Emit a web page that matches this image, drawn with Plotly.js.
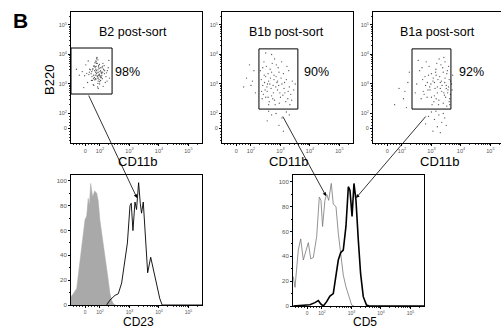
<!DOCTYPE html>
<html><head><meta charset="utf-8">
<script src="https://cdn.plot.ly/plotly-3.0.1.min.js"></script>
<style>html,body{margin:0;padding:0;overflow:hidden;background:#fff}#chart{width:510px;height:328px}</style>
</head><body><div id="chart"></div>
<script>
const W = 510, H = 328;

// ---- Data (display units: 10^2 = 2, 10^3 = 3 ..., "0" = 1.5) ----
const tickVals = [1.5, 2, 3, 4, 5];
const tickText = ['0', '10<sup>2</sup>', '10<sup>3</sup>', '10<sup>4</sup>', '10<sup>5</sup>'];
const histTicks = [0, 20, 40, 60, 80, 100];
const panelTitles = ['B2 post-sort', 'B1b post-sort', 'B1a post-sort'];
const gatePercents = ['98%', '90%', '92%'];
const dotXTitle = 'CD11b';
const dotYTitle = 'B220';
const histTitles = ['CD23', 'CD5'];

// B2 post-sort dots [CD11b, B220]
const b2Dots = [[1.85,3.40],[1.92,3.25],[2.01,3.55],[1.78,3.30],[1.95,3.62],[2.08,3.18],[1.88,3.45],[1.70,3.35],[2.12,3.50],[1.99,3.08],
[1.83,3.72],[1.90,3.28],[2.05,3.40],[1.76,3.52],[1.97,3.15],[2.15,3.35],[1.87,3.60],[1.93,3.02],[2.02,3.45],[1.81,3.22],
[1.68,3.48],[2.10,3.70],[1.96,3.30],[1.89,3.85],[2.20,3.25],[1.74,3.12],[1.84,3.58],[2.04,3.38],[1.91,3.20],[1.98,3.66],
[1.62,3.32],[2.25,3.45],[1.79,2.95],[1.94,3.10],[2.07,3.55],[1.86,3.78],[1.72,3.42],[2.00,3.28],[1.90,3.90],[2.13,3.48],
[1.55,3.36],[1.82,3.14],[2.18,3.05],[1.95,3.58],[1.88,3.70],[2.03,3.22],[1.65,3.50],[1.77,2.98],[2.09,3.40],[1.93,3.82],
[1.48,3.28],[2.28,3.55],[1.85,3.18],[1.99,3.00],[2.06,3.35],[1.80,3.62],[1.92,2.90],[2.16,3.45],[1.71,3.12],[1.87,3.75],
[1.40,3.42],[2.32,3.20],[1.96,3.30],[1.83,3.58],[1.58,3.05],[2.22,3.38],[1.89,3.88],[2.01,3.25],[1.75,3.48],[1.94,2.85],
[1.30,3.30],[1.52,3.65],[2.11,2.92],[1.86,3.15],[1.97,3.52],[1.64,3.40],[2.24,3.10],[1.91,3.70],[1.79,3.60],[2.04,3.22],
[1.20,3.50],[1.88,3.35],[2.00,3.42],[1.93,3.48],[1.84,3.30],[2.06,3.28],[1.90,3.38],[1.95,3.20],[1.82,3.45],[1.98,3.33],
[1.45,2.88],[2.30,3.80],[1.60,3.78],[2.14,3.62],[1.73,3.25],[2.02,3.12],[1.86,3.50],[1.94,3.40],[2.08,3.60],[1.78,3.18]];

// B1b post-sort dots
const b1bDots = [[2.75,2.95],[2.60,3.10],[2.90,2.80],[2.45,3.30],[3.05,3.00],[2.70,2.60],[2.85,3.25],[2.55,2.75],[3.15,2.70],[2.40,2.95],
[2.95,3.40],[2.65,3.50],[3.20,3.15],[2.80,2.45],[2.50,2.55],[3.00,2.55],[2.35,3.15],[3.30,2.90],[2.72,3.70],[2.58,3.35],
[2.88,3.05],[3.10,3.35],[2.42,2.65],[2.68,2.85],[3.25,2.50],[2.52,3.60],[2.98,2.70],[2.78,3.15],[3.40,3.10],[2.62,2.40],
[2.32,3.45],[3.12,2.85],[2.92,3.55],[2.48,2.80],[3.35,2.65],[2.82,2.30],[2.70,3.40],[3.02,3.20],[2.56,3.00],[3.45,2.80],
[2.38,2.50],[2.86,3.65],[3.18,2.40],[2.66,3.20],[2.96,2.35],[2.44,3.75],[3.28,3.45],[2.76,2.70],[3.08,2.62],[2.54,2.90],
[3.50,3.00],[2.80,3.85],[2.60,2.30],[3.22,3.60],[2.36,2.75],[2.90,3.10],[3.38,2.45],[2.46,3.05],[3.04,3.75],[2.74,2.50],
[2.64,3.00],[3.14,3.05],[2.84,2.90],[2.50,3.25],[3.32,2.30],[2.58,2.55],[2.94,2.95],[2.78,3.30],[3.26,2.75],[2.40,3.55],
[1.85,3.20],[2.00,2.95],[2.10,3.45],[1.95,3.65],[2.15,2.70],[1.75,2.90],[2.05,3.10],
[2.85,2.00],[3.05,1.85],[2.70,1.95],[3.20,2.05],[2.95,1.60],[3.10,1.40],[2.60,2.08],[3.30,1.95],[2.55,1.75],
[2.70,4.00],[2.50,4.05]];

// B1a post-sort dots
const b1aDots = [[3.20,2.90],[3.05,3.10],[3.35,2.75],[2.90,3.30],[3.45,3.05],[3.10,2.60],[3.28,3.25],[2.95,2.80],[3.55,2.70],[2.80,2.95],
[3.40,3.40],[3.15,3.50],[3.60,3.15],[3.25,2.45],[2.85,2.55],[3.48,2.55],[2.70,3.15],[3.58,2.90],[3.18,3.70],[3.00,3.35],
[3.30,3.05],[3.52,3.35],[2.75,2.65],[3.12,2.85],[3.62,2.50],[2.92,3.60],[3.42,2.70],[3.22,3.15],[3.65,3.10],[3.08,2.40],
[2.60,3.45],[3.50,2.85],[3.38,3.55],[2.88,2.80],[3.64,2.65],[3.24,2.30],[3.14,3.40],[3.46,3.20],[2.98,3.00],[3.56,2.80],
[2.65,2.50],[3.32,3.65],[3.60,2.40],[3.06,3.20],[3.40,2.35],[2.82,3.75],[3.54,3.45],[3.20,2.70],[3.44,2.62],[2.94,2.90],
[3.68,3.00],[3.26,3.85],[3.02,2.30],[3.58,3.60],[2.72,2.75],[3.34,3.10],[3.62,2.30],[2.86,3.05],[3.46,3.75],[3.16,2.50],
[2.50,3.00],[3.36,2.95],[3.10,3.05],[2.78,3.25],[3.52,2.25],[3.00,2.55],[3.30,2.85],[3.16,3.30],[3.50,2.95],[2.68,3.55],
[2.45,2.70],[3.42,3.90],[2.55,3.80],[3.70,2.80],[3.72,3.30],
[3.00,2.05],[3.25,1.95],[3.40,2.00],[3.10,1.80],[3.35,1.70],[2.90,1.90],[3.20,1.55],[3.45,1.85],[3.05,1.40],[3.30,1.35],[2.80,1.65],[3.50,1.60],[3.15,2.08],
[2.20,3.05],[2.10,2.75],[2.25,3.40],[2.05,2.50],[1.90,2.85],[1.75,2.30],[2.15,2.20]];

// Histograms (% of max)
const cd23CtrlX = [1.017,1.095,1.21,1.30,1.38,1.434,1.49,1.55,1.60,1.64,1.685,1.75,1.82,1.89,1.94,2.00,2.07,2.135,2.20,2.27,2.34,2.41,2.475,2.54];
const cd23CtrlY = [6.7,9,13.4,30,47,58,68.5,72,86,80,98,87,92,90,84,68,57,47,36,22,9,3,0.5,0];
const cd23B2X = [2.227,2.339,2.51,2.62,2.735,2.847,2.93,3.017,3.06,3.118,3.187,3.24,3.31,3.366,3.41,3.468,3.55,3.617,3.72,3.83,3.92,4.03,4.11,5.46];
const cd23B2Y = [0,4,7.8,9,17.7,36,50,80,82,60,83,77,98.6,82,74,83,50,26,38.5,26,15.8,5,0,0];
const cd5B1bX = [1.027,1.085,1.197,1.278,1.367,1.458,1.537,1.617,1.707,1.82,1.909,1.966,2.02,2.10,2.159,2.227,2.315,2.383,2.475,2.553,2.634,2.722,2.813,2.905,3.006,3.085];
const cd5B1bY = [23.6,15,45,54,37,44,51,38,39,56,87.6,85,64,85,90,85,98.6,82,80,58.6,39.7,24.9,15.5,7.5,0.8,0];
const cd5B1aX = [1.027,1.367,1.59,1.76,1.876,1.966,2.045,2.159,2.27,2.383,2.475,2.553,2.634,2.722,2.813,2.894,2.95,3.02,3.085,3.153,3.232,3.31,3.40,3.51,3.60,5.46];
const cd5B1aY = [0,0.5,1,2.7,4.3,1.5,0,3.5,8,10,23.6,37,42.9,45,64,96,93,72,98.6,85,53,26,7.5,0.8,0,0];

// ---- helpers ----
const px = x => x / W;
const py = y => 1 - y / H;
const minorVals = [];
[1.1,1.2,1.3,1.4,1.6,1.7,1.8,1.9].forEach(v => minorVals.push(v));
for (let n = 2; n <= 5; n++) for (let k = 2; k <= 9; k++) { const v = n + Math.log10(k); if (v < 5.46) minorVals.push(v); }

const fontFam = '"Liberation Sans", Arial, sans-serif';
function baseAxis(extra) {
  return Object.assign({
    showline: true, mirror: true, linecolor: '#000', linewidth: 1,
    ticks: 'outside', ticklen: 2, tickwidth: 1, tickcolor: '#000',
    showgrid: false, zeroline: false, fixedrange: true,
    tickfont: { family: fontFam, size: 5.5, color: '#555' }
  }, extra);
}
function logAxis(domain, range, anchor, fs) {
  return baseAxis({
    domain, range, anchor, tickmode: 'array', tickvals: tickVals, ticktext: tickText,
    tickfont: { family: fontFam, size: fs || 5.5, color: '#555' },
    minor: { tickmode: 'array', tickvals: minorVals, ticks: 'outside', ticklen: 1.2, tickwidth: 0.8, tickcolor: '#000' }
  });
}
function histYAxis(domain, range, anchor) {
  return baseAxis({
    domain, range, anchor, tickmode: 'array', tickvals: histTicks,
    tickfont: { family: fontFam, size: 6, color: '#555' },
    minor: { tickmode: 'array', tickvals: [10,30,50,70,90], ticks: 'outside', ticklen: 1.2, tickcolor: '#000' }
  });
}

const topX = [[71,202],[222,353],[373,504]];

const layout = {
  width: W, height: H, margin: { l: 0, r: 0, t: 0, b: 0 },
  paper_bgcolor: '#fff', plot_bgcolor: 'rgba(0,0,0,0)', showlegend: false,
  font: { family: fontFam, color: '#000' },
  xaxis: logAxis([px(71), px(202)], [1.017, 5.46], 'y'),
  yaxis: logAxis([py(143), py(12)], [1.0, 5.44], 'x'),
  xaxis2: logAxis([px(222), px(353)], [1.017, 5.46], 'y2'),
  yaxis2: logAxis([py(143), py(12)], [1.0, 5.44], 'x2'),
  xaxis3: logAxis([px(373), px(504)], [1.017, 5.46], 'y3'),
  yaxis3: logAxis([py(143), py(12)], [1.0, 5.44], 'x3'),
  xaxis4: logAxis([px(71), px(202)], [1.017, 5.46], 'y4', 5),
  yaxis4: histYAxis([py(305), py(175)], [0, 104.8], 'x4'),
  xaxis5: logAxis([px(293), px(424)], [1.017, 5.46], 'y5', 5),
  yaxis5: histYAxis([py(306), py(175)], [0, 105.4], 'x5'),
  shapes: [
    { type: 'rect', xref: 'x', yref: 'y', x0: 1.017, x1: 2.41, y0: 2.66, y1: 4.22, line: { color: '#000', width: 1 } },
    { type: 'rect', xref: 'x2', yref: 'y2', x0: 2.27, x1: 3.59, y0: 2.15, y1: 4.19, line: { color: '#000', width: 1 } },
    { type: 'rect', xref: 'x3', yref: 'y3', x0: 2.34, x1: 3.66, y0: 2.15, y1: 4.19, line: { color: '#000', width: 1 } }
  ],
  annotations: []
};

const A = layout.annotations;
function txt(text, x, y, size, opts) {
  A.push(Object.assign({ text, xref: 'paper', yref: 'paper', x: px(x), y: py(y), showarrow: false,
    xanchor: 'center', yanchor: 'middle', font: { family: fontFam, size, color: '#000' } }, opts || {}));
}
txt('<b>B</b>', 20, 20, 21);
const titleCx = [133, 286, 437];
const pctCx = [127, 316, 471];
panelTitles.forEach((t, i) => txt(t, titleCx[i], 32, 12.5));
gatePercents.forEach((t, i) => txt(t, pctCx[i], 72, 12.5));
topX.forEach(d => txt(dotXTitle, (d[0] + d[1]) / 2 + 1, 161, 13));
txt(dotYTitle, 49, 80, 13, { textangle: -90 });
txt(histTitles[0], 138, 321.5, 12);
txt(histTitles[1], 365, 321.5, 12);

function arrow(hx, hy, tx, ty) {
  A.push({ text: '', xref: 'paper', yref: 'paper', x: px(hx), y: py(hy), ax: tx - hx, ay: ty - hy,
    showarrow: true, arrowhead: 2, arrowsize: 0.9, arrowwidth: 0.8, arrowcolor: '#000', standoff: 0 });
}
arrow(137, 198, 88, 94);
arrow(326, 196, 282, 115);
arrow(356, 198, 427, 115);

const dotMarker = { size: 1.3, color: '#555' };
const traces = [
  { type: 'scatter', mode: 'markers', x: b2Dots.map(d => d[0]), y: b2Dots.map(d => d[1]), xaxis: 'x', yaxis: 'y', marker: dotMarker, hoverinfo: 'skip' },
  { type: 'scatter', mode: 'markers', x: b1bDots.map(d => d[0]), y: b1bDots.map(d => d[1]), xaxis: 'x2', yaxis: 'y2', marker: dotMarker, hoverinfo: 'skip' },
  { type: 'scatter', mode: 'markers', x: b1aDots.map(d => d[0]), y: b1aDots.map(d => d[1]), xaxis: 'x3', yaxis: 'y3', marker: dotMarker, hoverinfo: 'skip' },
  { type: 'scatter', mode: 'lines', x: cd23CtrlX, y: cd23CtrlY, xaxis: 'x4', yaxis: 'y4', fill: 'tozeroy', fillcolor: '#a9a9a9', line: { color: '#a9a9a9', width: 0.5 }, hoverinfo: 'skip' },
  { type: 'scatter', mode: 'lines', x: cd23B2X, y: cd23B2Y, xaxis: 'x4', yaxis: 'y4', line: { color: '#000', width: 0.9 }, hoverinfo: 'skip' },
  { type: 'scatter', mode: 'lines', x: cd5B1bX, y: cd5B1bY, xaxis: 'x5', yaxis: 'y5', line: { color: '#777', width: 0.8 }, hoverinfo: 'skip' },
  { type: 'scatter', mode: 'lines', x: cd5B1aX, y: cd5B1aY, xaxis: 'x5', yaxis: 'y5', line: { color: '#000', width: 1.6 }, hoverinfo: 'skip' }
];

Plotly.newPlot('chart', traces, layout, { staticPlot: true, displayModeBar: false });
</script>
</body></html>
